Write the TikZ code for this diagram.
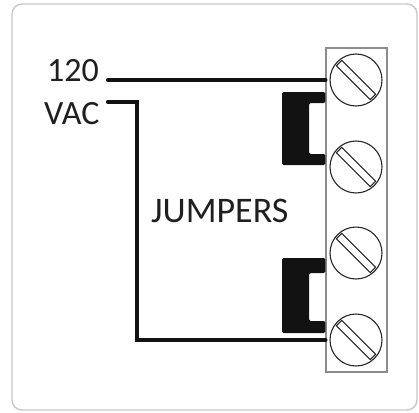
\documentclass[tikz,border=0pt]{standalone}
\usepackage{fontspec}
\setmainfont{Carlito}
\usetikzlibrary{calc}

\begin{document}
\begin{tikzpicture}
[x=1pt,y=-1pt,%
  frameDecorate/.style={draw=black!22,line width=1.4pt,rounded corners=10pt},%
  stripDecorate/.style={shape=rectangle,draw=black!45,line width=1.1pt,minimum width=61pt,minimum height=324pt,inner sep=0pt},%
  screwDecorate/.style={shape=circle,draw=black!85,line width=1.1pt,minimum size=52pt,inner sep=0pt},%
  slotDecorate/.style={shape=rectangle,draw=black!85,line width=1.1pt,minimum width=48pt,minimum height=7.5pt,inner sep=0pt,rotate=-45},%
  wireDecorate/.style={draw=black!93,line width=4.2pt},%
  jumperDecorate/.style={fill=black!93,rounded corners=1.5pt},%
  labelDecorate/.style={inner sep=0pt,anchor=base west,text=black!88,font=\fontsize{34}{40}\selectfont}]
\useasboundingbox (0,0) rectangle (419,412);
%% outer frame
\draw[frameDecorate] (12,4) rectangle (417,410);
%% terminal strip and screws
\node (strip) at (356.5,210) [stripDecorate] {};
\foreach \nodename/\y in {1/80, 2/167, 3/253, 4/340}
{
  \node (s\nodename) at (356,\y) [screwDecorate] {};
  \node (slot\nodename) at (s\nodename) [slotDecorate] {};
}
%% jumpers
\fill[jumperDecorate] (strip.west |- 0,92) -- (282,92) -- (282,165) -- (strip.west |- 0,165)
  -- (strip.west |- 0,154) -- (309,154) -- (309,103) -- (strip.west |- 0,103) -- cycle;
\fill[jumperDecorate] (strip.west |- 0,258) -- (282,258) -- (282,333) -- (strip.west |- 0,333)
  -- (strip.west |- 0,321) -- (309,321) -- (309,273) -- (strip.west |- 0,273) -- cycle;
%% labels
\node (l120) at (47,81) [labelDecorate] {120};
\node (lvac) at (44,124) [labelDecorate] {VAC};
\node (ljump) at (151,222) [labelDecorate,font=\fontsize{36}{42}\selectfont] {JUMPERS};
%% wires
\coordinate (w1) at (108,80);
\coordinate (w2) at (108,102);
\coordinate (bend) at (137,102);
\draw[wireDecorate,line cap=round] (w1) -- (strip.west |- s1);
\draw[wireDecorate,line cap=round] (w2) -- (bend) |- (strip.west |- s4);
\end{tikzpicture}
\end{document}
